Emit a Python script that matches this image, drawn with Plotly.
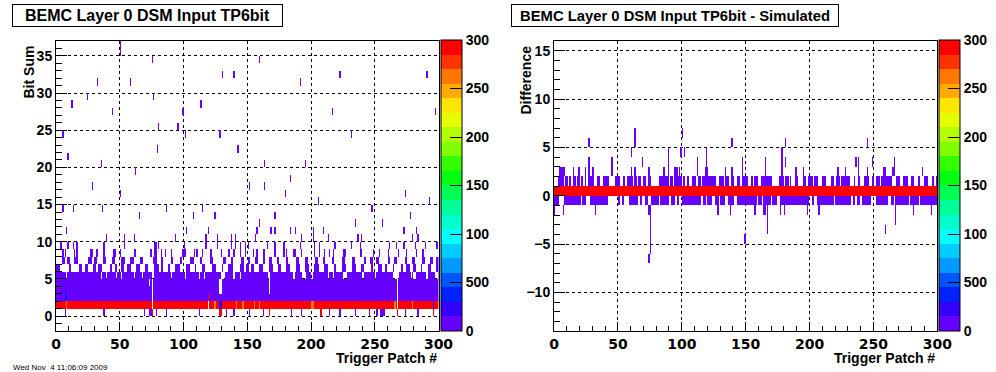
import plotly.graph_objects as go

N_PATCH = 300

# ---------------- palette (20 contour levels, 0..300) ----------------
palette = ["#6600ff", "#3300ff", "#0022ff", "#0055ff", "#0099ff", "#00ccff", "#00ffff",
           "#00ffcc", "#00ff99", "#00ff55", "#00ff11", "#33ff00", "#80ff00", "#b3ff00",
           "#e6ff00", "#ffe600", "#ffaa00", "#ff7700", "#ff3300", "#ff0000"]
cbar_tickvals = [0, 50, 100, 150, 200, 250, 300]
cbar_ticktext = ["0", "500", "100", "150", "200", "250", "300"]

# ---------------- counts used for cell shades ----------------
LOW = 5        # sparse entries (purple)
BLUE = 40
ORANGE = 262
FULL = 295

# ======================= LEFT: Bit Sum vs Trigger Patch =======================
bitsum_y_range = [-2, 37]
x_ticks = [0, 50, 100, 150, 200, 250, 300]
bitsum_y_ticks = [0, 5, 10, 15, 20, 25, 30, 35]

# row 0 (bit sum 0)
bitsum_row0_low = [7, 37, 69, 73, 74, 78, 86, 112, 133, 139, 151, 162, 184, 192, 214, 222,
                   234, 245, 251, 254, 255, 256, 257, 273, 283]
bitsum_row0_full = [75, 128, 129, 167, 207, 267, 295]
# row 1 (bit sum 1): saturated except
bitsum_row1_empty = [75, 119, 267]
bitsum_row1_low = [128, 129, 295]
bitsum_row1_orange = [8, 124, 141, 146, 155, 159, 200, 201, 265, 279]
# rows 2-5 are nearly solid; empty patches listed
bitsum_row2_empty = [75, 267]
bitsum_row2_full = [119]
bitsum_row2_blue = [7, 8]
bitsum_row3_empty = [75, 128, 129, 167, 267]
bitsum_row3_blue = [7]
bitsum_row4_empty = [73, 75, 128, 129, 167, 267]
bitsum_row5_empty = [8, 35, 39, 47, 51, 61, 67, 75, 76, 90, 101, 112, 116, 129, 130, 131, 139,
                     144, 166, 167, 186, 193, 194, 195, 200, 213, 217, 225, 226, 227, 240, 250,
                     264, 265, 266, 267, 268, 278, 280, 281, 290, 297, 298]
# rows 6-11 partially filled: (first, last) patch runs
bitsum_row6_runs = [(0, 2), (10, 11), (18, 19), (23, 24), (29, 30), (33, 35), (42, 43), (46, 47),
                    (51, 52), (56, 58), (63, 65), (70, 71), (77, 80), (82, 83), (88, 88),
                    (93, 96), (102, 104), (109, 109), (114, 116), (122, 124), (130, 130),
                    (135, 138), (144, 146), (149, 150), (153, 154), (159, 161), (167, 169),
                    (174, 175), (180, 182), (188, 190), (195, 197), (202, 205), (210, 212),
                    (218, 218), (224, 226), (232, 234), (239, 240), (247, 247), (252, 254),
                    (258, 258), (264, 264), (270, 271), (274, 276), (280, 281), (286, 286),
                    (291, 293), (298, 299)]
bitsum_row7_runs = [(5, 6), (9, 10), (14, 16), (25, 27), (30, 31), (37, 38), (44, 45), (51, 53),
                    (58, 60), (66, 67), (76, 78), (82, 83), (90, 91), (97, 98), (105, 107),
                    (113, 113), (121, 122), (131, 132), (137, 138), (145, 146), (150, 151),
                    (156, 157), (162, 163), (167, 168), (173, 174), (180, 181), (188, 189),
                    (195, 196), (203, 204), (209, 210), (216, 217), (224, 225), (232, 233),
                    (241, 242), (246, 247), (251, 252), (260, 261), (265, 266), (273, 274),
                    (279, 280), (287, 288), (293, 294), (298, 299)]
bitsum_row8_hits = [5, 7, 14, 16, 27, 28, 31, 32, 37, 45, 46, 50, 61, 62, 74, 77, 78, 82, 85, 90,
                    99, 100, 101, 108, 110, 114, 121, 129, 135, 139, 144, 148, 154, 157, 162, 163,
                    171, 178, 180, 186, 187, 192, 202, 206, 210, 214, 217, 225, 226, 238, 239,
                    248, 253, 260, 268, 274, 282, 287]
bitsum_row9_hits = [3, 4, 9, 13, 16, 37, 53, 77, 78, 80, 100, 117, 126, 137, 140, 144, 148, 150,
                    165, 171, 178, 191, 202, 206, 218, 231, 238, 261, 266, 272, 281, 289, 298]
bitsum_row10_hits = [39, 53, 61, 93, 117, 126, 137, 140, 156, 192, 201, 213, 236, 239, 279, 283]
bitsum_row11_hits = [8, 102, 119, 157, 168, 171, 183, 187, 201, 209, 272, 282]
# scattered entries above: (patch, bit sum)
bitsum_sparse = [(234, 12), (255, 12), (159, 12), (124, 13), (107, 13), (65, 13), (171, 13),
                 (277, 13), (5, 14), (13, 14), (36, 14), (114, 14), (86, 14), (247, 14),
                 (205, 15), (292, 15), (50, 16), (179, 16), (273, 16), (28, 17), (151, 17),
                 (163, 17), (183, 18), (62, 19), (35, 20), (163, 20), (195, 20), (9, 21),
                 (142, 22), (79, 22), (5, 24), (101, 24), (128, 24), (231, 24), (80, 25),
                 (95, 25), (44, 27), (99, 27), (216, 27), (297, 27), (113, 28), (12, 28),
                 (24, 29), (76, 29), (32, 31), (58, 31), (191, 31), (130, 32), (139, 32),
                 (222, 32), (290, 32), (75, 34), (159, 34), (50, 35), (50, 36)]

# ======================= RIGHT: Difference vs Trigger Patch =======================
diff_y_range = [-14, 16]
diff_y_ticks = [-10, -5, 0, 5, 10, 15]
diff_row0_count = FULL   # every patch saturated at difference 0
diff_rowm1_runs = [(0, 3), (8, 20), (22, 24), (28, 41), (50, 51), (53, 54), (59, 65), (67, 68),
                   (71, 73), (76, 81), (83, 89), (92, 94), (96, 97), (100, 114), (117, 118),
                   (120, 123), (126, 128), (130, 133), (136, 140), (143, 158), (160, 162),
                   (164, 169), (171, 174), (177, 188), (189, 199), (202, 203), (206, 218),
                   (220, 228), (229, 232), (234, 235), (237, 239), (241, 247), (252, 259),
                   (260, 261), (264, 265), (267, 275), (276, 277), (279, 285), (287, 288),
                   (289, 292), (293, 299)]
diff_row1_runs = [(3, 7), (9, 10), (12, 12), (15, 16), (18, 19), (21, 22), (24, 24), (27, 30),
                  (34, 35), (38, 42), (48, 51), (54, 55), (57, 61), (63, 64), (66, 67), (70, 71),
                  (74, 75), (82, 89), (91, 92), (94, 99), (101, 102), (104, 105), (108, 110),
                  (113, 114), (116, 122), (123, 126), (129, 130), (131, 132), (134, 136),
                  (139, 140), (143, 145), (147, 151), (154, 155), (157, 159), (162, 166),
                  (167, 170), (176, 179), (181, 183), (185, 185), (189, 190), (195, 196),
                  (199, 202), (204, 206), (210, 212), (217, 218), (221, 223), (225, 231),
                  (235, 235), (238, 239), (243, 246), (249, 250), (252, 254), (256, 264),
                  (268, 270), (273, 274), (275, 276), (280, 281), (285, 286), (290, 292),
                  (296, 297), (299, 299)]
diff_row2_hits = [4, 5, 6, 7, 8, 15, 19, 24, 27, 30, 45, 60, 63, 74, 85, 86, 89, 94, 95, 96, 98,
                  112, 118, 119, 120, 134, 139, 147, 165, 178, 189, 195, 222, 228, 238, 245,
                  258, 259, 265, 266, 288]
diff_row3_hits = [27, 45, 69, 89, 112, 119, 147, 165, 178, 181, 236, 238, 249, 266]
diff_row4_hits = [60, 89, 99, 102, 119, 178]
diff_row5_hits = [27, 63, 139, 181, 245]
diff_row6_hits = [63, 100]
diff_rowm2_hits = [0, 7, 32, 74, 75, 128, 138, 157, 164, 165, 167, 177, 180, 198, 207, 267,
                   281, 295]
diff_rowm3_hits = [75, 167, 267]
diff_rowm4_hits = [75, 167, 259]
diff_rowm5_hits = [75, 149]
diff_rowm6_hits = [75]
diff_rowm7_hits = [74]

footer_text = "Wed Nov  4 11:06:09 2009"


# ---------------- assemble matrices ----------------
def empty_grid(y_lo, y_hi):
    return [[None] * N_PATCH for _ in range(y_hi - y_lo)]


def put(grid, y_lo, row, patches, value):
    for p in patches:
        if 0 <= p < N_PATCH:
            grid[row - y_lo][p] = value


def runs_to_list(runs):
    out = []
    for a, b in runs:
        out.extend(range(a, b + 1))
    return out


def all_but(excl):
    s = set(excl)
    return [p for p in range(N_PATCH) if p not in s]


L0 = bitsum_y_range[0]
zL = empty_grid(*bitsum_y_range)
put(zL, L0, 0, bitsum_row0_low, LOW)
put(zL, L0, 0, bitsum_row0_full, FULL)
put(zL, L0, 1, all_but(bitsum_row1_empty), FULL)
put(zL, L0, 1, bitsum_row1_low, LOW + 10)
put(zL, L0, 1, bitsum_row1_orange, ORANGE)
put(zL, L0, 2, all_but(bitsum_row2_empty), LOW)
put(zL, L0, 2, bitsum_row2_full, FULL)
put(zL, L0, 2, bitsum_row2_blue, BLUE)
put(zL, L0, 3, all_but(bitsum_row3_empty), LOW)
put(zL, L0, 3, bitsum_row3_blue, BLUE - 15)
put(zL, L0, 4, all_but(bitsum_row4_empty), LOW)
put(zL, L0, 5, all_but(bitsum_row5_empty), LOW)
put(zL, L0, 6, runs_to_list(bitsum_row6_runs), LOW)
put(zL, L0, 7, runs_to_list(bitsum_row7_runs), LOW)
put(zL, L0, 8, bitsum_row8_hits, LOW)
put(zL, L0, 9, bitsum_row9_hits, LOW)
put(zL, L0, 10, bitsum_row10_hits, LOW)
put(zL, L0, 11, bitsum_row11_hits, LOW)
for p, r in bitsum_sparse:
    put(zL, L0, r, [p], LOW)

R0 = diff_y_range[0]
zR = empty_grid(*diff_y_range)
put(zR, R0, 0, list(range(N_PATCH)), diff_row0_count)
put(zR, R0, -1, runs_to_list(diff_rowm1_runs), LOW)
put(zR, R0, 1, runs_to_list(diff_row1_runs), LOW)
for r, hits in [(2, diff_row2_hits), (3, diff_row3_hits), (4, diff_row4_hits),
                (5, diff_row5_hits), (6, diff_row6_hits), (-2, diff_rowm2_hits),
                (-3, diff_rowm3_hits), (-4, diff_rowm4_hits), (-5, diff_rowm5_hits),
                (-6, diff_rowm6_hits), (-7, diff_rowm7_hits)]:
    put(zR, R0, r, hits, LOW)

x_centers = [p + 0.5 for p in range(N_PATCH)]
yL_centers = [y + 0.5 for y in range(*bitsum_y_range)]
yR_centers = [y + 0.5 for y in range(*diff_y_range)]

# discrete colour scale
cs = []
n = len(palette)
for i, c in enumerate(palette):
    cs.append([i / n, c])
    cs.append([(i + 1) / n, c])

W, H = 996, 372
FONT = "Liberation Sans"


def px_x(v):
    return v / W


def px_y(v):
    return 1 - v / H


tickfont = dict(family=FONT, size=14, color="black", weight="bold")
xtickfont = dict(family="DejaVu Sans", size=14, color="black", weight="bold")


def colorbar(x_left):
    return dict(x=px_x(x_left), xanchor="left", xpad=0, ypad=0,
                y=px_y(185.5), yanchor="middle", len=291, lenmode="pixels",
                thickness=21, thicknessmode="pixels", outlinecolor="black", outlinewidth=1,
                tickvals=cbar_tickvals, ticktext=cbar_ticktext, ticks="inside",
                ticklen=12, tickcolor="black", tickfont=tickfont)


fig = go.Figure()
fig.add_trace(go.Heatmap(x=x_centers, y=yL_centers, z=zL, colorscale=cs, zmin=0, zmax=300,
                         xaxis="x", yaxis="y", colorbar=colorbar(441), hoverongaps=False))
fig.add_trace(go.Heatmap(x=x_centers, y=yR_centers, z=zR, colorscale=cs, zmin=0, zmax=300,
                         xaxis="x2", yaxis="y2", colorbar=colorbar(938.5), hoverongaps=False))

axis_common = dict(showline=True, mirror=True, linecolor="black", linewidth=1,
                   showgrid=True, gridcolor="black", griddash="dot", gridwidth=1,
                   zeroline=False, ticks="inside", tickcolor="black", tickwidth=1,
                   automargin=False)

y_dom = [px_y(331), px_y(41)]
fig.update_layout(
    width=W, height=H, margin=dict(l=0, r=0, t=0, b=0, autoexpand=False),
    paper_bgcolor="white", plot_bgcolor="white", showlegend=False,
    xaxis=dict(domain=[px_x(56), px_x(438.5)], range=[0, 300], tickvals=x_ticks,
               ticklen=9, minor=dict(dtick=10, tick0=0, ticks="inside", ticklen=5,
                                     tickcolor="black", showgrid=False),
               anchor="y", tickfont=xtickfont, **axis_common),
    yaxis=dict(domain=y_dom, range=bitsum_y_range, tickvals=bitsum_y_ticks,
               ticklen=11, minor=dict(dtick=1, tick0=0, ticks="inside", ticklen=6,
                                      tickcolor="black", showgrid=False),
               anchor="x", tickfont=tickfont, **axis_common),
    xaxis2=dict(domain=[px_x(554), px_x(937.3)], range=[0, 300], tickvals=x_ticks,
                ticklen=9, minor=dict(dtick=10, tick0=0, ticks="inside", ticklen=5,
                                      tickcolor="black", showgrid=False),
                anchor="y2", tickfont=xtickfont, **axis_common),
    yaxis2=dict(domain=y_dom, range=diff_y_range, tickvals=diff_y_ticks,
                ticklen=11, minor=dict(dtick=1, tick0=0, ticks="inside", ticklen=6,
                                       tickcolor="black", showgrid=False),
                anchor="x2", tickfont=tickfont, **axis_common),
)

label_font = dict(family=FONT, size=14, color="black", weight="bold")
annots = [
    dict(text="BEMC Layer 0 DSM Input TP6bit", x=px_x(12), y=px_y(4), xanchor="left",
         yanchor="top", width=269, height=21, bordercolor="black", borderwidth=1,
         borderpad=0, bgcolor="white",
         font=dict(family=FONT, size=16, color="black", weight="bold")),
    dict(text="BEMC Layer 0 DSM Input TP6bit - Simulated", x=px_x(511), y=px_y(4),
         xanchor="left", yanchor="top", width=326, height=21, bordercolor="black",
         borderwidth=1, borderpad=0, bgcolor="white",
         font=dict(family=FONT, size=14.8, color="black", weight="bold")),
    dict(text="Trigger Patch #", x=px_x(439), y=px_y(358), xanchor="right", yanchor="middle",
         font=label_font),
    dict(text="Trigger Patch #", x=px_x(937), y=px_y(358), xanchor="right", yanchor="middle",
         font=label_font),
    dict(text="Bit Sum", x=px_x(28), y=px_y(44), xanchor="center", yanchor="top",
         textangle=-90, font=label_font),
    dict(text="Difference", x=px_x(525), y=px_y(44), xanchor="center", yanchor="top",
         textangle=-90, font=label_font),
    dict(text=footer_text, x=px_x(11), y=px_y(360.5), xanchor="left", yanchor="top",
         font=dict(family=FONT, size=8, color="black")),
]
for a in annots:
    a.update(xref="paper", yref="paper", showarrow=False)
fig.update_layout(annotations=annots)

fig.write_html("out.html", config={"displayModeBar": False, "staticPlot": True},
               post_script="document.body.style.margin='0';document.body.style.overflow='hidden';")
